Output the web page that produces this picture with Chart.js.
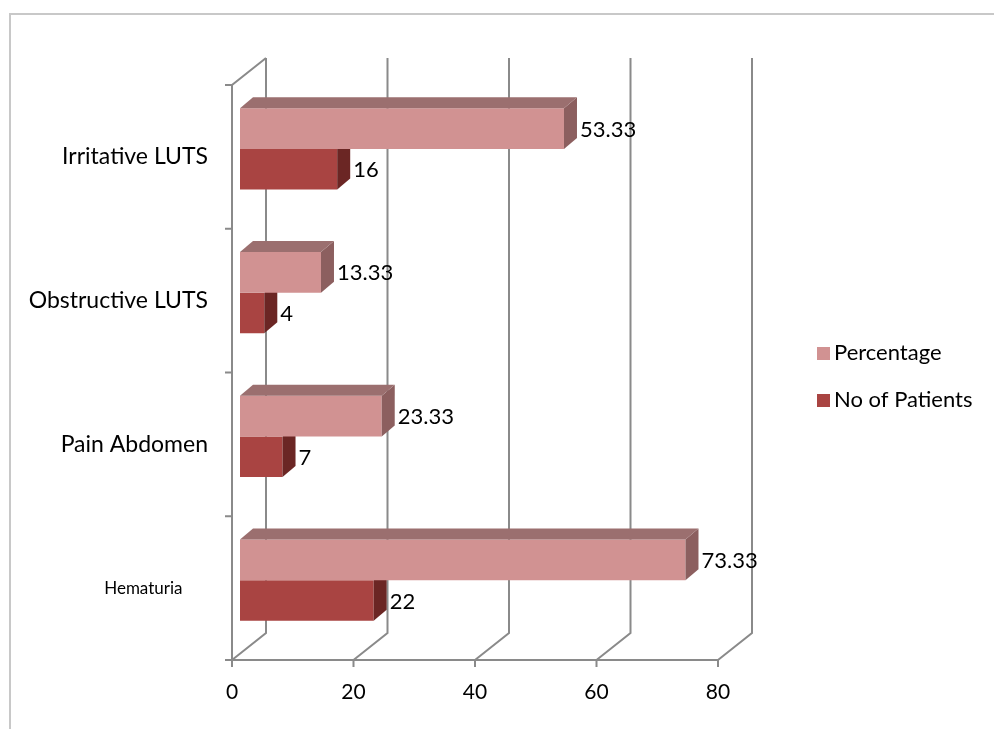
<!DOCTYPE html>
<html>
<head>
<meta charset="utf-8">
<title>Presenting symptoms</title>
<script src="https://cdn.jsdelivr.net/npm/chart.js@4.4.1/dist/chart.umd.min.js"></script>
<style>
  html, body { margin: 0; padding: 0; background: #fff; }
  #wrap { position: relative; width: 994px; height: 729px; }
</style>
</head>
<body>
<div id="wrap"><canvas id="symptomChart" width="994" height="729"></canvas></div>
<script>
// Chart data
const symptoms = ['Irritative LUTS', 'Obstructive LUTS', 'Pain Abdomen', 'Hematuria'];
const percentage = [53.33, 13.33, 23.33, 73.33];
const patients = [16, 4, 7, 22];
const xTicks = [0, 20, 40, 60, 80];

const FONT = 'Lato, "Open Sans", sans-serif';
const LINE = '#8a8a8a';
const TEXT = '#000';

// oblique offsets: back wall depth and bar depth
const wallDepth = { x: 34, y: -27 };
const barShift = { x: 8, y: -8 };
const barDepth = { x: 13, y: -11 };

const faceColors = [
  { front: '#d19292', top: '#9b6f6f', side: '#8c5f5f' },
  { front: '#a94442', top: '#7a2e2c', side: '#6b2624' }
];

// frame, back wall, floor and axis lines
const wallPlugin = {
  id: 'wall',
  beforeDraw(chart) {
    const ctx = chart.ctx;
    ctx.save();
    ctx.strokeStyle = '#c8c8c8';
    ctx.lineWidth = 2;
    ctx.beginPath();
    ctx.moveTo(10, 729);
    ctx.lineTo(10, 14);
    ctx.lineTo(994, 14);
    ctx.stroke();
    ctx.restore();
  },
  beforeDatasetsDraw(chart) {
    const { ctx, chartArea, scales } = chart;
    const x = scales.x;
    const { top, bottom, left } = chartArea;
    ctx.save();
    ctx.strokeStyle = LINE;
    ctx.lineWidth = 2;
    ctx.beginPath();
    xTicks.forEach(v => {
      const px = x.getPixelForValue(v);
      // floor diagonal + back wall gridline
      ctx.moveTo(px, bottom);
      ctx.lineTo(px + wallDepth.x, bottom + wallDepth.y);
      ctx.lineTo(px + wallDepth.x, top + wallDepth.y);
      // tick mark
      ctx.moveTo(px, bottom);
      ctx.lineTo(px, bottom + 7);
    });
    // left wall
    ctx.moveTo(left + wallDepth.x, top + wallDepth.y);
    ctx.lineTo(left, top);
    ctx.lineTo(left, bottom);
    // front floor edge
    ctx.moveTo(left - 7, bottom);
    ctx.lineTo(x.getPixelForValue(80), bottom);
    // category separators
    const band = (bottom - top) / symptoms.length;
    for (let i = 0; i <= symptoms.length; i++) {
      ctx.moveTo(left - 7, top + band * i);
      ctx.lineTo(left, top + band * i);
    }
    ctx.stroke();
    ctx.restore();

    // bars sit part way into the depth
    ctx.save();
    ctx.translate(barShift.x, barShift.y);
  },
  afterDatasetDraw(chart, args) {
    const ctx = chart.ctx;
    const i = args.index;
    const colors = faceColors[i];
    const values = chart.data.datasets[i].data;
    args.meta.data.forEach((bar, j) => {
      const { x, y, base, height } = bar.getProps(['x', 'y', 'base', 'height'], true);
      const t = y - height / 2;
      const b = y + height / 2;
      ctx.fillStyle = colors.side;
      ctx.beginPath();
      ctx.moveTo(x, t);
      ctx.lineTo(x + barDepth.x, t + barDepth.y);
      ctx.lineTo(x + barDepth.x, b + barDepth.y);
      ctx.lineTo(x, b);
      ctx.closePath();
      ctx.fill();
      if (i === 0) {
        ctx.fillStyle = colors.top;
        ctx.beginPath();
        ctx.moveTo(base, t);
        ctx.lineTo(base + barDepth.x, t + barDepth.y);
        ctx.lineTo(x + barDepth.x, t + barDepth.y);
        ctx.lineTo(x, t);
        ctx.closePath();
        ctx.fill();
      }
      // value label
      ctx.fillStyle = TEXT;
      ctx.font = '22px ' + FONT;
      ctx.textAlign = 'left';
      ctx.textBaseline = 'middle';
      ctx.fillText(String(values[j]), x + 16, y + 1);
    });
  },
  afterDatasetsDraw(chart) {
    chart.ctx.restore();
  },
  afterDraw(chart) {
    // legend on the right
    const { ctx, chartArea } = chart;
    const mid = (chartArea.top + chartArea.bottom) / 2 + 4;
    ctx.save();
    ctx.font = '22px ' + FONT;
    ctx.textBaseline = 'middle';
    ctx.textAlign = 'left';
    chart.data.datasets.forEach((ds, i) => {
      const cy = mid + (i - 0.5) * 47;
      ctx.fillStyle = ds.backgroundColor;
      ctx.fillRect(817, cy - 6, 13, 13);
      ctx.fillStyle = TEXT;
      ctx.fillText(ds.label, 834, cy);
    });
    ctx.restore();
  }
};

const ctx = document.getElementById('symptomChart').getContext('2d');
new Chart(ctx, {
  type: 'bar',
  data: {
    labels: symptoms,
    datasets: [
      {
        label: 'Percentage',
        data: percentage,
        backgroundColor: faceColors[0].front,
        borderWidth: 0,
        clip: false
      },
      {
        label: 'No of Patients',
        data: patients,
        backgroundColor: faceColors[1].front,
        borderWidth: 0,
        clip: false
      }
    ]
  },
  options: {
    indexAxis: 'y',
    responsive: false,
    devicePixelRatio: 1,
    animation: false,
    events: [],
    categoryPercentage: 0.565,
    barPercentage: 1,
    layout: {
      padding: { left: 0, top: 85, right: 276, bottom: 0 }
    },
    plugins: {
      legend: { display: false },
      tooltip: { enabled: false }
    },
    scales: {
      x: {
        min: 0,
        max: 80,
        grid: { display: false, drawTicks: false },
        border: { display: false },
        ticks: {
          stepSize: 20,
          padding: 20,
          color: TEXT,
          font: { family: FONT, size: 21 }
        },
        afterFit(scale) { scale.height = 69; }
      },
      y: {
        grid: { display: false, drawTicks: false },
        border: { display: false },
        ticks: {
          padding: 24,
          color: TEXT,
          font: (c) => ({ family: FONT, size: c.index === 3 ? 17 : 23 }),
          callback: (v, i) => i === 3 ? symptoms[i] + '\u2003\u2003' : symptoms[i]
        },
        afterFit(scale) { scale.width = 232; }
      }
    }
  },
  plugins: [wallPlugin]
});
</script>
</body>
</html>
